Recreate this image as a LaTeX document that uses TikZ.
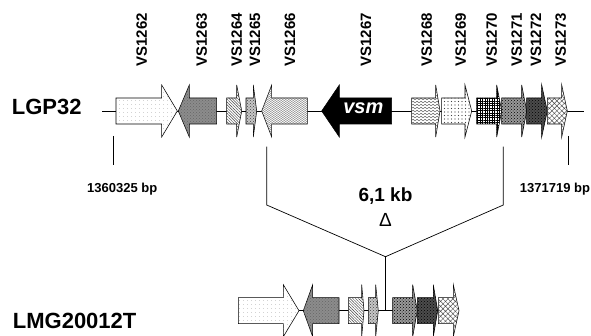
\documentclass[tikz,border=0pt]{standalone}
\usepackage{fontspec}
\setmainfont{Liberation Sans}
\usetikzlibrary{patterns,patterns.meta}

% wavy fill for VS1266 and VS1268
\tikzdeclarepattern{
name=wavefine,
type=uncolored,
bounding box={(0pt,-1pt) and (3pt,1pt)},
tile size={(3pt,2pt)},
code={
\draw[line width=0.35pt] (0pt,0pt) sin (0.75pt,0.5pt) cos (1.5pt,0pt) sin (2.25pt,-0.5pt) cos (3pt,0pt);
}
}

\tikzdeclarepattern{
name=wave,
type=uncolored,
bounding box={(0pt,-1.5pt) and (4pt,1.5pt)},
tile size={(4pt,3pt)},
code={
\draw[line width=0.4pt] (0pt,0pt) sin (1pt,0.9pt) cos (2pt,0pt) sin (3pt,-0.9pt) cos (4pt,0pt);
}
}

% gene arrow: style, centre line, start, head, tip
\newcommand{\gene}[5]{%
\draw[gene,#1] (#3,#2-13) -- (#4,#2-13) -- (#4,#2-26) -- (#5,#2)
-- (#4,#2+26) -- (#4,#2+13) -- (#3,#2+13) -- cycle;
}

\begin{document}
\begin{tikzpicture}[
x=1pt, y=-1pt,
gene/.style={
draw,
line width=0.55pt
},
genelabel/.style={
rotate=90,
anchor=west,
inner sep=0pt,
font=\fontsize{15}{15}\selectfont\bfseries
},
strain/.style={
anchor=base west,
inner sep=0pt,
font=\fontsize{22}{22}\selectfont\bfseries
},
position/.style={
anchor=base,
inner sep=0pt,
font=\fontsize{13}{13}\selectfont\bfseries
},
line/.style={
line width=0.7pt
},
p1262/.style={fill=white, postaction={pattern={Dots[distance=4pt,radius=0.45pt]}, pattern color=gray!80}},
p1263/.style={fill=gray!90, postaction={pattern=crosshatch dots, pattern color=gray!80!black}},
p1264/.style={fill=white, postaction={pattern={Lines[angle=-45,distance=2pt,line width=0.45pt]}, pattern color=gray!50!black}},
p1265/.style={fill=gray!45, postaction={pattern=crosshatch dots, pattern color=gray!50!black}},
p1266/.style={fill=white, postaction={pattern=wavefine, pattern color=gray!70!black}},
pvsm/.style={fill=black},
p1268/.style={fill=white, postaction={pattern=wave, pattern color=gray!60!black}},
p1269/.style={fill=white, postaction={pattern={Dots[distance=3.5pt,radius=0.55pt]}, pattern color=gray!50!black}},
p1270/.style={fill=white, postaction={pattern={Hatch[angle=0,distance=2.4pt,line width=0.45pt]}, pattern color=black}},
p1271/.style={fill=gray!80, postaction={pattern=crosshatch dots, pattern color=black}},
p1272/.style={fill=gray!60!black, postaction={pattern=crosshatch dots, pattern color=black}},
p1273/.style={fill=white, postaction={pattern={Hatch[angle=45,distance=3.5pt,line width=0.45pt]}, pattern color=gray!60!black}}
]

\useasboundingbox (0,0) rectangle (591,336);


% LGP32 track

\node (lgp) [strain] at (11.7,115) {LGP32};

\coordinate (trackL) at (102,111);
\coordinate (trackR) at (584,111);
\draw[line] (trackL) -- (trackR);

\gene{p1262}{111}{116}{161.7}{177.3}
\gene{p1263}{111}{216.7}{189.3}{178.3}
\gene{p1264}{111}{226.7}{236.7}{241.7}
\gene{p1265}{111}{246}{253.3}{256.7}
\gene{p1266}{111}{307.3}{271.7}{261.7}
\gene{pvsm}{111}{391.7}{339.3}{321.7}
\gene{p1268}{111}{411.7}{435.7}{440}
\gene{p1269}{111}{441.7}{465}{471.7}
\gene{p1270}{111}{476.7}{496.7}{501.7}
\gene{p1271}{111}{501.7}{521.7}{526.7}
\gene{p1272}{111}{526.7}{541.7}{547.3}
\gene{p1273}{111}{547.3}{561.7}{567.3}

\node (vsm) [text=white, font=\fontsize{20}{20}\selectfont\bfseries\itshape] at (363.3,108) {vsm};

\foreach \x/\n in {141.7/1262, 201.7/1263, 236.7/1264, 255/1265, 290/1266, 366/1267,
426.7/1268, 460.7/1269, 491.7/1270, 516.7/1271, 536/1272, 560.7/1273}
\node (l\n) [genelabel] at (\x,66.7) {VS\n};


% genome positions

\coordinate (tickLa) at (113.3,136);
\coordinate (tickLb) at (113.3,165);
\coordinate (tickRa) at (568.3,136);
\coordinate (tickRb) at (568.3,165);
\draw[line] (tickLa) -- (tickLb);
\draw[line] (tickRa) -- (tickRb);

\node (posL) [position] at (122.3,192.7) {1360325 bp};
\node (posR) [position] at (555,192.7) {1371719 bp};


% deleted region

\coordinate (cutL) at (266.7,146.7);
\coordinate (kneeL) at (266.7,205);
\coordinate (cutR) at (503.3,146.7);
\coordinate (kneeR) at (503.3,205);
\coordinate (join) at (385.5,256.7);
\coordinate (joinB) at (385.5,310.7);

\draw[line] (cutL) -- (kneeL) -- (join) -- (kneeR) -- (cutR);
\draw[line] (join) -- (joinB);

\node (size) [anchor=base, inner sep=0pt, font=\fontsize{19}{19}\selectfont\bfseries] at (385.5,201.7) {6,1 kb};
\node (delta) [anchor=base, inner sep=0pt, font=\fontsize{19}{19}\selectfont] at (385.5,226.7) {Δ};


% LMG20012T track

\node (lmg) [strain] at (12.7,328.3) {LMG20012T};

\coordinate (botL) at (250,310.7);
\coordinate (botR) at (450,310.7);
\draw[line] (botL) -- (botR);

\gene{p1262}{310.7}{238.3}{283.3}{299}
\gene{p1263}{310.7}{339}{312.7}{303.3}
\gene{p1264}{310.7}{348.3}{361.7}{364}
\gene{p1265}{310.7}{368.3}{375.7}{378.3}
\gene{p1271}{310.7}{392.7}{412.7}{417.3}
\gene{p1272}{310.7}{417.3}{433.3}{437.7}
\gene{p1273}{310.7}{438.3}{453.3}{459}


\end{tikzpicture}
\end{document}
